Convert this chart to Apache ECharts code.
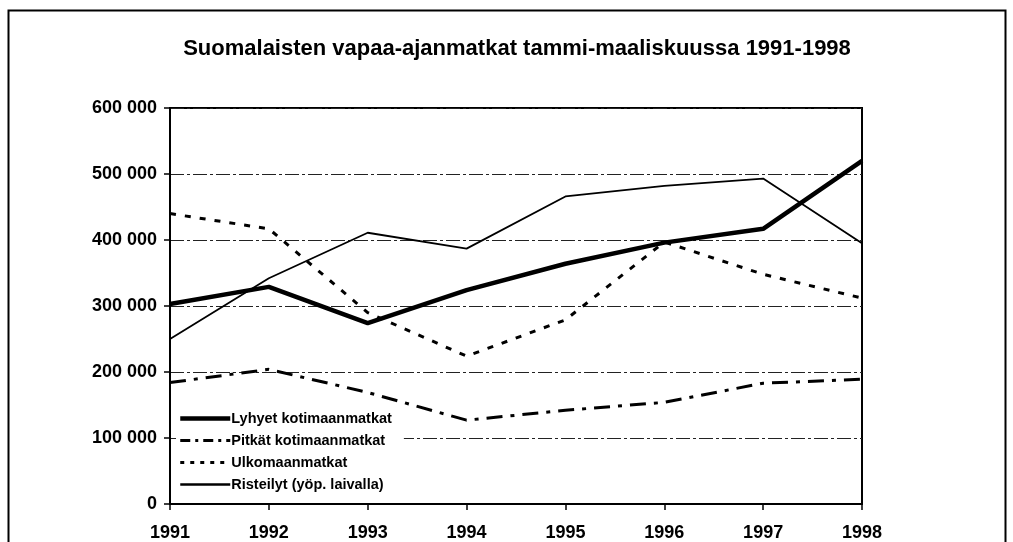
<!DOCTYPE html>
<html><head><meta charset="utf-8">
<script src="https://cdn.jsdelivr.net/npm/echarts@6/dist/echarts.min.js"></script>
<style>html,body{margin:0;padding:0;background:#fff}#c{width:1013px;height:542px}</style>
</head><body><div id="c"></div>
<script>
const years = ['1991','1992','1993','1994','1995','1996','1997','1998'];
const lyhyet = [303000, 329000, 274000, 324000, 364000, 396000, 417000, 520000];
const pitkat = [184000, 204000, 169000, 127000, 142000, 154000, 183000, 189000];
const ulkomaan = [440000, 417000, 290000, 224000, 279000, 397000, 348000, 312000];
const risteilyt = [250000, 342000, 411000, 387000, 466000, 482000, 493000, 395000];
const names = ['Lyhyet kotimaanmatkat','Pitkät kotimaanmatkat','Ulkomaanmatkat','Risteilyt (yöp. laivalla)'];

const font = '"Liberation Sans", Arial, sans-serif';
const chart = echarts.init(document.getElementById('c'), null, {renderer:'canvas'});
function fmt(v){ return v === 0 ? '0' : String(v).replace(/\B(?=(\d{3})+(?!\d))/g, ' '); }
const legendStyles = [
  {width:4.5, type:'solid'},
  {width:3, type:[10,5,3,5]},
  {width:3, type:[4,6]},
  {width:2.5, type:'solid'}
];
chart.setOption({
  animation:false,
  backgroundColor:'#fff',
  title:{text:'Suomalaisten vapaa-ajanmatkat tammi-maaliskuussa 1991-1998', left:512, textAlign:'center', top:33,
    textStyle:{fontFamily:font, fontWeight:'bold', fontSize:22, color:'#000'}},
  graphic:[{type:'rect', shape:{x:8.5,y:10.5,width:997,height:540}, style:{fill:null, stroke:'#000', lineWidth:2}, z:-1}],
  grid:{left:170, right:151, top:108, bottom:37, show:true, borderColor:'#000', borderWidth:2, backgroundColor:'transparent'},
  legend:{orient:'vertical', left:176, top:409, itemGap:7, itemWidth:50, itemHeight:14, itemStyle:{opacity:0}, backgroundColor:'#fff', padding:[2,12,2,2],
    textStyle:{fontFamily:font, fontWeight:'bold', fontSize:14.5, color:'#000', padding:[0,0,0,-4]},
    data:names.map((n,i)=>({name:n, lineStyle:{color:'#000', width:legendStyles[i].width, type:legendStyles[i].type}}))},
  xAxis:{type:'category', data:years, boundaryGap:false,
    axisLine:{lineStyle:{color:'#000', width:2}},
    axisTick:{show:true, inside:false, length:6, lineStyle:{color:'#000', width:1.5}},
    axisLabel:{fontFamily:font, fontWeight:'bold', fontSize:18, color:'#000', margin:20}},
  yAxis:{type:'value', min:0, max:600000, interval:100000,
    axisLine:{show:true, lineStyle:{color:'#000', width:2}},
    axisTick:{show:true, length:6, lineStyle:{color:'#000', width:1.5}},
    axisLabel:{formatter:fmt, fontFamily:font, fontWeight:'bold', fontSize:18, color:'#000', margin:13},
    splitLine:{show:true, lineStyle:{color:'#222', width:1.2, type:[14,3,3,3]}}},
  series:[
    {name:names[0], type:'line', data:lyhyet, symbol:'none', lineStyle:{color:'#000', width:4.5}, itemStyle:{color:'#000'}, z:5},
    {name:names[1], type:'line', data:pitkat, symbol:'none', lineStyle:{color:'#000', width:3, type:[16,8,4,8]}, itemStyle:{color:'#000'}},
    {name:names[2], type:'line', data:ulkomaan, symbol:'none', lineStyle:{color:'#000', width:3, type:[6,9]}, itemStyle:{color:'#000'}},
    {name:names[3], type:'line', data:risteilyt, symbol:'none', lineStyle:{color:'#000', width:1.8}, itemStyle:{color:'#000'}}
  ]
});
</script></body></html>
